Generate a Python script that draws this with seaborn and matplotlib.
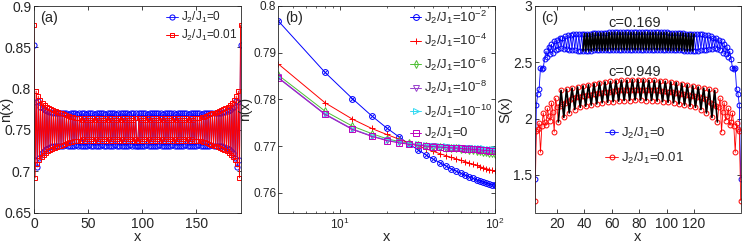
import matplotlib
matplotlib.use('Agg')
import matplotlib.pyplot as plt
import seaborn as sns
from matplotlib.ticker import FuncFormatter, NullFormatter

# ---------------- panel (a): n(x) on 192 sites ----------------
site_a = list(range(192))
n_a_j0 = [
    0.853, 0.714, 0.784, 0.705, 0.785, 0.716, 0.778, 0.722, 0.776, 0.725,
    0.774, 0.727, 0.773, 0.728, 0.772, 0.729, 0.772, 0.730, 0.771, 0.730,
    0.771, 0.731,
    0.770, 0.731, 0.770, 0.731, 0.770, 0.731, 0.770, 0.732, 0.770, 0.731,
    0.769, 0.731, 0.770, 0.731, 0.770, 0.731, 0.770, 0.732, 0.769, 0.731,
    0.770, 0.731, 0.770, 0.731, 0.770, 0.731, 0.769, 0.731, 0.770, 0.732,
    0.770, 0.731, 0.770, 0.731, 0.769, 0.731, 0.770, 0.731, 0.770, 0.731,
    0.770, 0.732, 0.770, 0.731, 0.769, 0.731, 0.770, 0.731, 0.770, 0.731,
    0.770, 0.731, 0.770, 0.732, 0.769, 0.731, 0.770, 0.731, 0.770, 0.731,
    0.770, 0.731, 0.770, 0.731, 0.770, 0.731, 0.769, 0.732, 0.770, 0.731,
    0.770, 0.731, 0.770, 0.731,
    0.731, 0.770, 0.731, 0.770, 0.731, 0.770, 0.731, 0.770, 0.732, 0.769,
    0.731, 0.770, 0.731, 0.770, 0.731, 0.770, 0.731, 0.770, 0.731, 0.770,
    0.732, 0.770, 0.731, 0.769, 0.731, 0.770, 0.731, 0.770, 0.731, 0.770,
    0.731, 0.770, 0.732, 0.770, 0.731, 0.769, 0.731, 0.770, 0.731, 0.770,
    0.731, 0.770, 0.731, 0.770, 0.732, 0.770, 0.731, 0.769, 0.731, 0.770,
    0.731, 0.770, 0.731, 0.770, 0.731, 0.770, 0.732, 0.770, 0.731, 0.769,
    0.731, 0.770, 0.731, 0.770, 0.731, 0.770, 0.731, 0.770, 0.732, 0.770,
    0.731, 0.770, 0.731, 0.770,
    0.731, 0.771, 0.730, 0.771, 0.730, 0.772, 0.729, 0.772, 0.728, 0.773,
    0.727, 0.774, 0.725, 0.776, 0.722, 0.778, 0.716, 0.785, 0.705, 0.784,
    0.714, 0.853,
]
n_a_j001 = [
    0.877, 0.692, 0.797, 0.709, 0.791, 0.714, 0.786, 0.717, 0.782, 0.720,
    0.780, 0.722, 0.778, 0.724, 0.776, 0.726, 0.775, 0.727, 0.774, 0.728,
    0.773, 0.729, 0.772, 0.730, 0.771, 0.731, 0.770, 0.732, 0.769, 0.733,
    0.768, 0.734, 0.767, 0.735, 0.766, 0.735, 0.766, 0.736, 0.765, 0.736,
    0.765, 0.736,
    0.764, 0.737, 0.762, 0.739, 0.764, 0.737, 0.762, 0.739, 0.764, 0.737,
    0.762, 0.739, 0.764, 0.737, 0.762, 0.739, 0.764, 0.737, 0.762, 0.739,
    0.764, 0.737, 0.762, 0.739, 0.764, 0.737, 0.762, 0.739, 0.764, 0.737,
    0.762, 0.739, 0.764, 0.737, 0.762, 0.739, 0.764, 0.737, 0.762, 0.739,
    0.764, 0.737, 0.762, 0.739, 0.764, 0.737, 0.762, 0.739, 0.764, 0.737,
    0.762, 0.739, 0.764, 0.737,
    0.737, 0.764, 0.739, 0.762, 0.737, 0.764, 0.739, 0.762, 0.737, 0.764,
    0.739, 0.762, 0.737, 0.764, 0.739, 0.762, 0.737, 0.764, 0.739, 0.762,
    0.737, 0.764, 0.739, 0.762, 0.737, 0.764, 0.739, 0.762, 0.737, 0.764,
    0.739, 0.762, 0.737, 0.764, 0.739, 0.762, 0.737, 0.764, 0.739, 0.762,
    0.737, 0.764, 0.739, 0.762, 0.737, 0.764, 0.739, 0.762, 0.737, 0.764,
    0.739, 0.762, 0.737, 0.764,
    0.736, 0.765, 0.736, 0.765, 0.736, 0.766, 0.735, 0.766, 0.735, 0.767,
    0.734, 0.768, 0.733, 0.769, 0.732, 0.770, 0.731, 0.771, 0.730, 0.772,
    0.729, 0.773, 0.728, 0.774, 0.727, 0.775, 0.726, 0.776, 0.724, 0.778,
    0.722, 0.780, 0.720, 0.782, 0.717, 0.786, 0.714, 0.791, 0.709, 0.797,
    0.692, 0.877,
]
labels_a = [r'$J_2/J_1$=0', r'$J_2/J_1$=0.01']

# ---------------- panel (b): n(x) vs x, log axis ----------------
site_b = [4, 8, 12, 16, 20, 24, 28, 32, 36, 40, 44, 48, 52,
          56, 60, 64, 68, 72, 76, 80, 84, 88, 92, 96, 100]
n_b_1e2 = [0.7968, 0.7858, 0.7802, 0.7765, 0.7739, 0.7720, 0.7704, 0.7692, 0.7681,
           0.7672, 0.7665, 0.7658, 0.7652, 0.7647, 0.7642, 0.7638, 0.7635, 0.7631,
           0.7628, 0.7626, 0.7623, 0.7621, 0.7619, 0.7617, 0.7616]
n_b_1e4 = [0.7876, 0.7793, 0.7758, 0.7738, 0.7725, 0.7715, 0.7707, 0.7700, 0.7694,
           0.7689, 0.7684, 0.7680, 0.7676, 0.7673, 0.7670, 0.7667, 0.7664, 0.7661,
           0.7659, 0.7656, 0.7654, 0.7652, 0.7650, 0.7648, 0.7646]
n_b_1e6 = [0.7852, 0.7775, 0.7743, 0.7727, 0.7716, 0.7710, 0.7706, 0.7703, 0.7701,
           0.7699, 0.7698, 0.7697, 0.7696, 0.7695, 0.7694, 0.7693, 0.7692, 0.7691,
           0.7690, 0.7689, 0.7688, 0.7687, 0.7686, 0.7685, 0.7684]
n_b_1e8 = [0.7847, 0.7769, 0.7737, 0.7722, 0.7713, 0.7708, 0.7705, 0.7703, 0.7701,
           0.7700, 0.7699, 0.7698, 0.7697, 0.7697, 0.7696, 0.7695, 0.7695, 0.7694,
           0.7694, 0.7693, 0.7692, 0.7692, 0.7691, 0.7691, 0.7690]
n_b_1e10 = [0.7846, 0.7768, 0.7736, 0.7722, 0.7713, 0.7708, 0.7705, 0.7704, 0.7702,
            0.7701, 0.7700, 0.7700, 0.7699, 0.7698, 0.7698, 0.7697, 0.7697, 0.7696,
            0.7696, 0.7695, 0.7695, 0.7694, 0.7694, 0.7693, 0.7693]
n_b_0 = [0.7846, 0.7768, 0.7736, 0.7721, 0.7712, 0.7707, 0.7704, 0.7702, 0.7700,
         0.7699, 0.7698, 0.7697, 0.7696, 0.7696, 0.7695, 0.7694, 0.7694, 0.7693,
         0.7693, 0.7692, 0.7691, 0.7691, 0.7690, 0.7690, 0.7689]
labels_b = [r'$J_2/J_1$=10$^{-2}$', r'$J_2/J_1$=10$^{-4}$', r'$J_2/J_1$=10$^{-6}$',
            r'$J_2/J_1$=10$^{-8}$', r'$J_2/J_1$=10$^{-10}$', r'$J_2/J_1$=0']

# ---------------- panel (c): S(x), bonds 4..154 ----------------
site_c = list(range(4, 155))
s_c_j0 = [
    1.46, 2.12, 2.22, 2.26, 2.45, 2.44, 2.45, 2.53, 2.60, 2.55,
    2.64, 2.57, 2.66, 2.58, 2.69, 2.61, 2.70, 2.62, 2.72, 2.63,
    2.72, 2.62, 2.73, 2.62, 2.74, 2.61, 2.74, 2.61, 2.75, 2.61,
    2.75, 2.60, 2.75, 2.60, 2.75, 2.60, 2.755, 2.60, 2.755, 2.60,
    2.755, 2.60, 2.76, 2.605, 2.76, 2.605, 2.76, 2.605, 2.76, 2.605,
    2.76, 2.605, 2.76, 2.605, 2.765, 2.61, 2.765, 2.61, 2.765, 2.61,
    2.765, 2.61, 2.765, 2.61, 2.765, 2.61, 2.765, 2.61, 2.765, 2.61,
    2.765, 2.61, 2.765, 2.61, 2.765, 2.61,
    2.765, 2.61, 2.765, 2.61, 2.765, 2.61, 2.765, 2.61, 2.765, 2.61,
    2.765, 2.61, 2.765, 2.61, 2.765, 2.61, 2.765, 2.61, 2.765, 2.61,
    2.765, 2.605, 2.76, 2.605, 2.76, 2.605, 2.76, 2.605, 2.76, 2.605,
    2.76, 2.605, 2.76, 2.60, 2.755, 2.60, 2.755, 2.60, 2.755, 2.60,
    2.75, 2.60, 2.75, 2.60, 2.75, 2.61, 2.75, 2.61, 2.74, 2.61,
    2.74, 2.62, 2.73, 2.62, 2.72, 2.63, 2.72, 2.62, 2.70, 2.61,
    2.69, 2.58, 2.66, 2.57, 2.64, 2.55, 2.60, 2.53, 2.45, 2.44,
    2.45, 2.26, 2.22, 2.12, 1.46,
]
s_c_j001 = [
    1.27, 1.89, 1.91, 1.96, 1.70, 1.93, 2.05, 1.97, 1.94, 2.09,
    2.02, 1.98, 2.14, 2.06, 1.88, 2.18, 2.10, 1.97, 2.11, 2.25,
    2.13, 2.01, 2.14, 2.26, 2.16, 2.05, 2.17, 2.27, 2.18, 2.08,
    2.19, 2.28, 2.19, 2.10, 2.20, 2.29, 2.20, 2.11, 2.21, 2.30,
    2.21, 2.12, 2.22, 2.31, 2.22, 2.13, 2.23, 2.32, 2.23, 2.14,
    2.235, 2.325, 2.24, 2.145, 2.24, 2.33, 2.245, 2.15, 2.245, 2.335,
    2.25, 2.155, 2.25, 2.34, 2.25, 2.16, 2.25, 2.34, 2.255, 2.16,
    2.255, 2.345, 2.255, 2.165, 2.255, 2.345,
    2.255, 2.165, 2.255, 2.345, 2.255, 2.16, 2.255, 2.34, 2.25, 2.16,
    2.25, 2.34, 2.25, 2.155, 2.25, 2.335, 2.245, 2.15, 2.245, 2.33,
    2.24, 2.145, 2.24, 2.325, 2.235, 2.14, 2.23, 2.32, 2.23, 2.13,
    2.22, 2.31, 2.22, 2.12, 2.21, 2.30, 2.21, 2.11, 2.20, 2.29,
    2.20, 2.10, 2.19, 2.28, 2.19, 2.08, 2.18, 2.27, 2.17, 2.05,
    2.16, 2.26, 2.14, 2.01, 2.13, 2.25, 2.11, 1.97, 2.10, 2.18,
    1.88, 2.06, 2.14, 1.98, 2.02, 2.09, 1.94, 1.97, 2.05, 1.93,
    1.70, 1.96, 1.91, 1.89, 1.27,
]
fit_span_j0 = (39, 120)     # x range covered by the black fit curve
fit_span_j001 = (21, 137)
c_text = ['c=0.169', 'c=0.949']
labels_c = [r'$J_2/J_1$=0', r'$J_2/J_1$=0.01']

# ---------------- style ----------------
sns.set_style('ticks')
plt.rcParams['font.family'] = ['Liberation Sans', 'DejaVu Sans']
dark = '#262626'
plt.rcParams.update({
    'mathtext.default': 'regular',
    'axes.edgecolor': dark, 'axes.linewidth': 0.6,
    'axes.labelcolor': dark, 'text.color': dark,
    'xtick.color': dark, 'ytick.color': dark,
    'xtick.direction': 'in', 'ytick.direction': 'in',
    'xtick.top': True, 'ytick.right': True,
    'xtick.major.size': 3, 'ytick.major.size': 3,
    'xtick.minor.size': 1.6, 'ytick.minor.size': 1.6,
    'xtick.major.width': 0.6, 'ytick.major.width': 0.6,
    'xtick.minor.width': 0.5, 'ytick.minor.width': 0.5,
    'xtick.major.pad': 3, 'ytick.major.pad': 2,
})


def draw(ax, x, y, color, marker=None, ms=3.5, lw=0.6):
    kw = {}
    if marker is not None:
        kw = dict(marker=marker, markersize=ms, markerfacecolor='none',
                  markeredgecolor=color, markeredgewidth=0.7)
    sns.lineplot(x=x, y=y, ax=ax, color=color, linewidth=lw, estimator=None,
                 errorbar=None, sort=False, legend=False, **kw)
    return ax.lines[-1]


fmt = FuncFormatter(lambda v, p: f'{v:g}')
fig = plt.figure(figsize=(7.47, 2.44), dpi=100)
W, H = 747, 244
top, bot = 6, 212.5


def axes_at(x0, x1):
    return fig.add_axes([x0 / W, (H - bot) / H, (x1 - x0) / W, (bot - top) / H])


def finish(ax, ylab, ylab_x, tag, size):
    ax.yaxis.set_major_formatter(fmt)
    ax.tick_params(labelsize=size)
    ax.set_xlabel('x', fontsize=10.5)
    ax.set_ylabel(ylab, fontsize=10.5)
    ax.xaxis.set_label_coords(0.5, -0.085)
    ax.yaxis.set_label_coords(ylab_x, 0.5)
    ax.text(0.03, 0.975, tag, transform=ax.transAxes, va='top', fontsize=10.5)


# ---- (a)
ax = axes_at(34, 241)
ha = [draw(ax, site_a, n_a_j0, 'b', 'o', 3.7),
      draw(ax, site_a, n_a_j001, 'r', 's', 3.5, lw=0.7)]
ax.set_xlim(0, 191.4)
ax.set_ylim(0.65, 0.9)
ax.set_xticks([0, 50, 100, 150])
ax.set_yticks([0.65, 0.7, 0.75, 0.8, 0.85, 0.9])
finish(ax, 'n(x)', -0.10, '(a)', 10)
ax.legend(ha, labels_a, loc='upper right', frameon=False, fontsize=8.5,
          handlelength=1.0, handletextpad=0.2, labelspacing=0.25,
          borderaxespad=0.15, borderpad=0.2)

# ---- (b)
ax = axes_at(278.3, 495)
cols_b = ['b', 'r', (0.3, 0.75, 0.2), (0.6, 0.25, 0.8), (0.2, 0.85, 0.95), 'm']
marks_b = ['o', '+', 'd', 'v', '>', 's']
series_b = [n_b_1e2, n_b_1e4, n_b_1e6, n_b_1e8, n_b_1e10, n_b_0]
hb = []
for ys, c, m in zip(series_b, cols_b, marks_b):
    hb.append(draw(ax, site_b, ys, c, m, 4.2, lw=0.7))
    if m == 'o':
        sns.scatterplot(x=site_b, y=ys, ax=ax, marker='x', s=10, color=c,
                        linewidth=0.6, legend=False)
ax.set_xscale('log')
ax.set_xlim(4, 100)
ax.set_ylim(0.7558, 0.8)
ax.set_yticks([0.76, 0.77, 0.78, 0.79, 0.8])
ax.xaxis.set_minor_formatter(NullFormatter())
finish(ax, 'n(x)', -0.122, '(b)', 8.5)
ax.tick_params(axis='y', pad=1.5)
ax.yaxis.label.set_size(10)
ax.legend(hb, labels_b, loc='upper right', frameon=False, fontsize=9.5,
          handlelength=0.9, handletextpad=0.2, labelspacing=0.47,
          borderaxespad=0.1, borderpad=0.1)

# ---- (c)
ax = axes_at(535, 740.7)
hc = [draw(ax, site_c, s_c_j0, 'b', 'o', 3.5),
      draw(ax, site_c, s_c_j001, 'r', 'o', 3.5)]
for ys, (a, b) in zip([s_c_j0, s_c_j001], [fit_span_j0, fit_span_j001]):
    xs = [x for x in site_c if a <= x <= b]
    draw(ax, xs, ys[a - 4:b - 3], 'k', None, lw=1.2)
ax.text(77, 2.845, c_text[0], ha='center', va='center', fontsize=10.5)
ax.text(77, 2.41, c_text[1], ha='center', va='center', fontsize=10.5)
ax.set_xlim(4, 154)
ax.set_ylim(1.165, 3)
ax.set_xticks([20, 40, 60, 80, 100, 120])
ax.set_yticks([1.5, 2, 2.5, 3])
finish(ax, 'S(x)', -0.11, '(c)', 10)
ax.legend(hc, labels_c, loc='upper left', bbox_to_anchor=(0.34, 0.42),
          frameon=False, fontsize=9.5, handlelength=1.0, handletextpad=0.2,
          labelspacing=0.75, borderaxespad=0, borderpad=0)

fig.savefig('out.png', dpi=100)
